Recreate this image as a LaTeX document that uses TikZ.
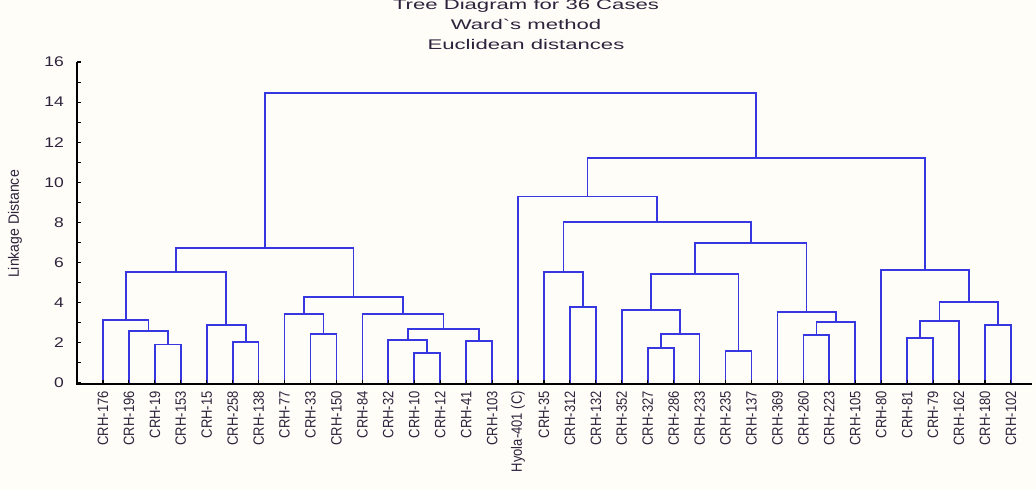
\documentclass[tikz,border=0pt]{standalone}
\usepackage{fontspec}
\setmainfont{Liberation Sans}
\usepackage{graphicx}
\definecolor{bgcol}{RGB}{255,253,248}
\definecolor{ink}{RGB}{45,35,60}
\definecolor{linkblue}{RGB}{55,55,225}
\newcommand\tstretch[1]{\scalebox{1.58}[1]{#1}}
\newcommand\nstretch[1]{\scalebox{1.25}[1]{#1}}
\newcommand\lstretch[1]{\scalebox{1}[1.15]{#1}}
\begin{document}
\begin{tikzpicture}[x=1pt,y=-1pt,
  titletext/.style={anchor=base, inner sep=0pt, text=ink, font=\fontsize{14}{16}\selectfont},
  ticklabel/.style={anchor=east, inner sep=0pt, text=ink, font=\fontsize{14}{16}\selectfont},
  leaflabel/.style={anchor=east, rotate=90, inner sep=0pt, text=ink, font=\fontsize{13}{15}\selectfont},
  axislabel/.style={rotate=90, inner sep=0pt, text=ink, font=\fontsize{13}{15}\selectfont},
  axisline/.style={draw=black, line width=1.1pt},
  dlink/.style={draw=linkblue, line width=1.7pt, line join=miter}]
\path[use as bounding box] (0,0) rectangle (1036,490);
\clip (0,0) rectangle (1036,490);
\fill[bgcol] (0,0) rectangle (1036,490);

% titles
\node[titletext] (title1) at (526,9) {\tstretch{Tree Diagram for 36 Cases}};
\node[titletext] (title2) at (526,29.5) {\tstretch{Ward\textasciigrave s method}};
\node[titletext] (title3) at (526,49.5) {\tstretch{Euclidean distances}};

% y axis label
\node[axislabel] (ylab) at (15,224) {\scalebox{1.08}[1.15]{Linkage Distance}};

% axes
\coordinate (axtop) at (77,62);
\coordinate (axorig) at (77,384);
\coordinate (axend) at (1032,384);
\draw[axisline] (axtop) -- (axorig) -- (axend);
\foreach \k in {0,...,16} \draw[axisline] (77,{383-\k*20.06}) -- ++(4,0);
\foreach \k in {0,2,...,16} \node[ticklabel] (yt\k) at (64,{383-\k*20.06}) {\nstretch{\k}};

\begin{scope}[shift={(77.06,383)},x=25.94pt,y=20.06pt]
\foreach \i in {1,...,36} \coordinate (L\i) at (\i,0);
% left group
\coordinate (a1) at (3.5,1.92);
\coordinate (a2) at (2.75,2.6);
\coordinate (a3) at (1.875,3.15);
\coordinate (a4) at (6.5,2.05);
\coordinate (a5) at (5.75,2.9);
\coordinate (a6) at (3.8125,5.55);
\coordinate (b1) at (9.5,2.45);
\coordinate (b2) at (8.75,3.45);
\coordinate (b3) at (13.5,1.5);
\coordinate (b4) at (12.75,2.15);
\coordinate (b5) at (15.5,2.1);
\coordinate (b6) at (14.125,2.7);
\coordinate (b7) at (12.5625,3.44);
\coordinate (b8) at (10.656,4.29);
\coordinate (c1) at (7.234,6.73);
% middle group
\coordinate (d1) at (19.5,3.8);
\coordinate (d2) at (18.75,5.55);
\coordinate (e1) at (22.5,1.75);
\coordinate (e2) at (23.25,2.45);
\coordinate (e3) at (22.125,3.65);
\coordinate (e4) at (25.5,1.6);
\coordinate (e5) at (23.8125,5.45);
\coordinate (f1) at (28.5,2.4);
\coordinate (f2) at (29.25,3.05);
\coordinate (f3) at (28.125,3.55);
\coordinate (g1) at (25.969,6.98);
\coordinate (g2) at (22.359,8.03);
\coordinate (g3) at (19.68,9.3);
% right group
\coordinate (r1) at (32.5,2.25);
\coordinate (r2) at (33.25,3.1);
\coordinate (r3) at (35.5,2.9);
\coordinate (r4) at (34.375,4.03);
\coordinate (r5) at (32.6875,5.63);
\coordinate (t1) at (26.18,11.2);
\coordinate (top) at (16.71,14.45);

\draw[dlink] (L3) |- (a1) -| (L4);
\draw[dlink] (L2) |- (a2) -| (a1);
\draw[dlink] (L1) |- (a3) -| (a2);
\draw[dlink] (L6) |- (a4) -| (L7);
\draw[dlink] (L5) |- (a5) -| (a4);
\draw[dlink] (a3) |- (a6) -| (a5);
\draw[dlink] (L9) |- (b1) -| (L10);
\draw[dlink] (L8) |- (b2) -| (b1);
\draw[dlink] (L13) |- (b3) -| (L14);
\draw[dlink] (L12) |- (b4) -| (b3);
\draw[dlink] (L15) |- (b5) -| (L16);
\draw[dlink] (b4) |- (b6) -| (b5);
\draw[dlink] (L11) |- (b7) -| (b6);
\draw[dlink] (b2) |- (b8) -| (b7);
\draw[dlink] (a6) |- (c1) -| (b8);
\draw[dlink] (L19) |- (d1) -| (L20);
\draw[dlink] (L18) |- (d2) -| (d1);
\draw[dlink] (L22) |- (e1) -| (L23);
\draw[dlink] (e1) |- (e2) -| (L24);
\draw[dlink] (L21) |- (e3) -| (e2);
\draw[dlink] (L25) |- (e4) -| (L26);
\draw[dlink] (e3) |- (e5) -| (e4);
\draw[dlink] (L28) |- (f1) -| (L29);
\draw[dlink] (f1) |- (f2) -| (L30);
\draw[dlink] (L27) |- (f3) -| (f2);
\draw[dlink] (e5) |- (g1) -| (f3);
\draw[dlink] (d2) |- (g2) -| (g1);
\draw[dlink] (L17) |- (g3) -| (g2);
\draw[dlink] (L32) |- (r1) -| (L33);
\draw[dlink] (r1) |- (r2) -| (L34);
\draw[dlink] (L35) |- (r3) -| (L36);
\draw[dlink] (r2) |- (r4) -| (r3);
\draw[dlink] (L31) |- (r5) -| (r4);
\draw[dlink] (g3) |- (t1) -| (r5);
\draw[dlink] (c1) |- (top) -| (t1);

\foreach \i in {1,...,36} \draw[axisline] (L\i) -- ++(0,0.15);

\foreach \i/\t in {1/CRH-176,2/CRH-196,3/CRH-19,4/CRH-153,5/CRH-15,6/CRH-258,7/CRH-138,8/CRH-77,9/CRH-33,10/CRH-150,11/CRH-84,12/CRH-32,13/CRH-10,14/CRH-12,15/CRH-41,16/CRH-103,17/Hyola-401 (C),18/CRH-35,19/CRH-312,20/CRH-132,21/CRH-352,22/CRH-327,23/CRH-286,24/CRH-233,25/CRH-235,26/CRH-137,27/CRH-369,28/CRH-260,29/CRH-223,30/CRH-105,31/CRH-80,32/CRH-81,33/CRH-79,34/CRH-162,35/CRH-180,36/CRH-102}
  \node[leaflabel] (n\i) at (\i,-0.4) {\lstretch{\t}};
\end{scope}
\end{tikzpicture}
\end{document}
